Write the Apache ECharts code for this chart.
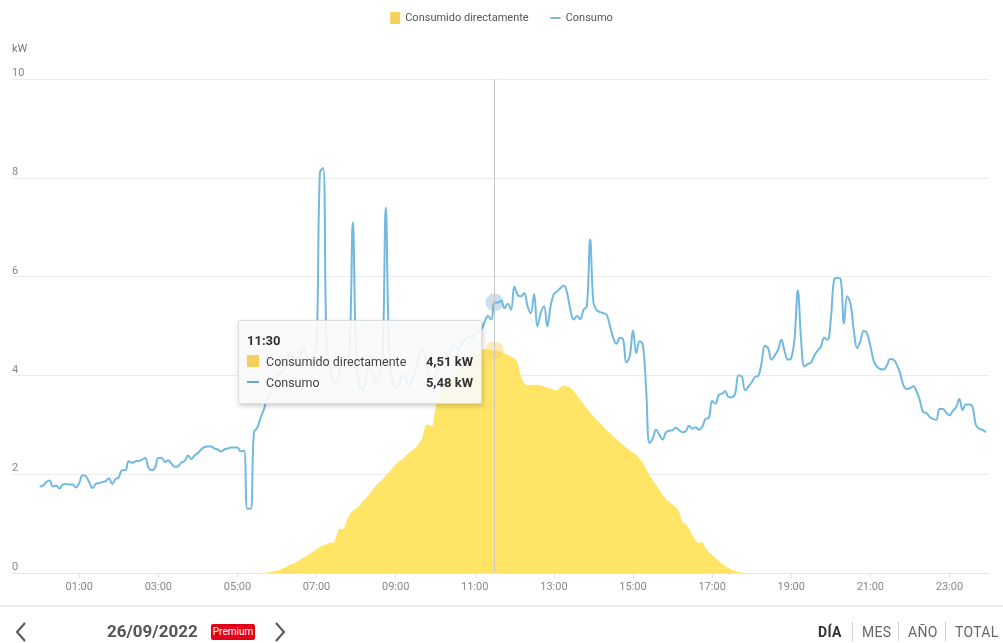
<!DOCTYPE html>
<html>
<head>
<meta charset="UTF-8">
<script src="https://cdn.jsdelivr.net/npm/echarts@6/dist/echarts.min.js"></script>
<style type="text/css">
body{margin:0;background:#fff;font-family:Roboto,"Noto Sans",sans-serif;overflow:hidden;}
#main{position:absolute;left:0;top:0;width:1003px;height:643px;}
.sep{position:absolute;left:0;top:605px;width:1003px;height:2px;background:#eeeeee;}
.nav{position:absolute;top:622px;height:20px;line-height:20px;font-size:14px;color:#666;letter-spacing:0.3px;}
.vbar{position:absolute;top:622px;width:1px;height:19px;background:#d0d0d0;}
.fecha{position:absolute;left:107px;top:620px;font-size:17px;font-weight:bold;color:#555;line-height:22px;}
.premium{position:absolute;left:211px;top:624px;width:44px;height:16px;line-height:16px;background:#e2001a;color:#fff;font-size:10px;text-align:center;border-radius:2px;}
.chev{position:absolute;top:622px;}
</style>
</head>
<body>
<div id="main"></div>
<div class="sep"></div>
<svg class="chev" style="left:14px" width="14" height="20"><polyline points="11,1 3,10 11,19" fill="none" stroke="#555" stroke-width="2"/></svg>
<div class="fecha">26/09/2022</div>
<div class="premium">Premium</div>
<svg class="chev" style="left:273px" width="14" height="20"><polyline points="3,1 11,10 3,19" fill="none" stroke="#555" stroke-width="2"/></svg>
<div class="nav" style="left:818px;font-weight:bold;color:#333">DÍA</div>
<div class="vbar" style="left:852px"></div>
<div class="nav" style="left:862px">MES</div>
<div class="vbar" style="left:898px"></div>
<div class="nav" style="left:908px">AÑO</div>
<div class="vbar" style="left:945px"></div>
<div class="nav" style="left:955px">TOTAL</div>

<script type="text/javascript">
// datos cada 5 minutos, 00:00 .. 23:55
var stepMin = 5;
var hourTicks = ['01:00','03:00','05:00','07:00','09:00','11:00','13:00','15:00','17:00','19:00','21:00','23:00'];

var consumo = [
	1.75,1.77,1.84,1.87,1.75,1.77,1.71,1.79,1.80,1.79,
	1.79,1.73,1.82,1.98,1.96,1.84,1.72,1.80,1.82,1.84,
	1.86,1.92,1.80,1.90,1.94,2.08,2.08,2.26,2.23,2.26,
	2.27,2.29,2.33,2.13,2.08,2.13,2.33,2.33,2.25,2.28,
	2.21,2.15,2.16,2.24,2.27,2.38,2.31,2.38,2.43,2.50,
	2.55,2.56,2.56,2.52,2.50,2.46,2.50,2.52,2.54,2.54,
	2.54,2.46,2.48,1.30,1.30,2.85,2.94,3.14,3.31,3.52,
	3.65,3.80,3.95,4.05,4.10,4.30,4.45,4.35,4.20,4.40,
	4.55,4.40,4.20,4.35,4.60,8.10,8.20,4.70,4.20,3.90,
	3.85,4.10,4.40,4.30,4.50,7.10,4.40,3.80,3.70,3.90,
	4.20,4.05,3.85,4.00,4.30,7.40,4.50,3.90,3.75,3.80,
	4.00,3.95,3.80,3.90,4.10,4.40,4.55,4.35,4.05,3.90,
	4.00,4.15,4.30,4.45,4.40,4.55,4.60,4.50,4.65,4.70,
	4.80,4.75,4.85,4.90,4.93,5.09,5.20,5.13,5.48,5.47,
	5.51,5.36,5.45,5.33,5.80,5.63,5.60,5.67,5.40,5.26,
	5.65,4.99,5.26,5.40,4.99,5.40,5.65,5.70,5.77,5.82,
	5.67,5.33,5.13,5.20,5.14,5.33,5.40,6.75,5.47,5.32,
	5.28,5.26,5.23,5.00,4.76,4.64,4.76,4.72,4.26,4.39,
	4.91,4.45,4.69,4.62,3.70,2.63,2.72,2.90,2.80,2.70,
	2.85,2.88,2.89,2.94,2.89,2.85,2.87,2.98,2.92,2.95,
	2.90,2.96,3.12,3.14,3.48,3.43,3.60,3.63,3.68,3.56,
	3.56,3.64,4.00,3.98,3.70,3.77,3.86,3.97,3.99,4.25,
	4.60,4.55,4.32,4.40,4.52,4.72,4.49,4.32,4.35,4.75,
	5.72,4.72,4.18,4.23,4.26,4.40,4.50,4.58,4.76,4.72,
	5.13,5.94,5.97,5.95,5.05,5.60,5.45,4.90,4.55,4.70,
	4.90,4.85,4.60,4.30,4.18,4.13,4.12,4.20,4.33,4.32,
	4.22,4.05,3.81,3.72,3.74,3.78,3.68,3.50,3.26,3.24,
	3.16,3.12,3.10,3.32,3.32,3.25,3.19,3.28,3.35,3.52,
	3.30,3.41,3.41,3.36,3.00,2.92,2.90,2.85
];

var directo = [
	0,0,0,0,0,0,0,0,0,0,
	0,0,0,0,0,0,0,0,0,0,
	0,0,0,0,0,0,0,0,0,0,
	0,0,0,0,0,0,0,0,0,0,
	0,0,0,0,0,0,0,0,0,0,
	0,0,0,0,0,0,0,0,0,0,
	0,0,0,0,0,0,0,0,0,0.01,
	0.02,0.03,0.05,0.07,0.10,0.13,0.16,0.19,0.22,0.27,
	0.31,0.35,0.39,0.44,0.48,0.53,0.56,0.58,0.61,0.61,
	0.75,0.90,0.88,1.03,1.18,1.26,1.30,1.36,1.45,1.52,
	1.60,1.69,1.77,1.83,1.90,1.97,2.04,2.12,2.20,2.26,
	2.30,2.37,2.43,2.48,2.53,2.62,2.72,2.98,3.00,2.97,
	3.30,3.58,3.74,3.78,3.82,3.92,4.00,4.10,4.18,4.25,
	4.30,4.36,4.43,4.49,4.52,4.53,4.52,4.51,4.51,4.50,
	4.48,4.44,4.42,4.38,4.35,4.25,3.98,3.85,3.80,3.81,
	3.81,3.81,3.80,3.78,3.76,3.73,3.71,3.70,3.76,3.79,
	3.78,3.75,3.68,3.60,3.51,3.42,3.33,3.25,3.17,3.10,
	3.03,2.96,2.89,2.83,2.77,2.71,2.65,2.59,2.53,2.48,
	2.44,2.39,2.31,2.23,2.10,1.98,1.88,1.78,1.68,1.58,
	1.50,1.44,1.38,1.33,1.24,1.02,0.99,0.90,0.77,0.66,
	0.61,0.62,0.50,0.42,0.37,0.31,0.25,0.19,0.14,0.10,
	0.06,0.04,0.02,0.01,0,0,0,0,0,0,
	0,0,0,0,0,0,0,0,0,0,
	0,0,0,0,0,0,0,0,0,0,
	0,0,0,0,0,0,0,0,0,0,
	0,0,0,0,0,0,0,0,0,0,
	0,0,0,0,0,0,0,0,0,0,
	0,0,0,0,0,0,0,0,0,0,
	0,0,0,0,0,0,0,0
];

var colorSol = '#f6d05c';
var colorCons = '#68a9cb';

function pad(n){ return n < 10 ? '0' + n : '' + n; }
function hhmm(m){ return pad(Math.floor(m / 60)) + ':' + pad(m % 60); }
function kw(v){ return v.toFixed(2).replace('.', ',') + ' kW'; }

var tickMinutes = hourTicks.map(function(t){ return parseInt(t.split(':')[0], 10) * 60; });
var consumoData = consumo.map(function(v, i){ return [i * stepMin, v]; });
var directoData = directo.map(function(v, i){ return [i * stepMin, v]; });

var myChart = echarts.init(document.getElementById('main'));
var option = {
	animation: false,
	textStyle: {fontFamily: 'Roboto'},
	legend: {
		top: 7, left: 'center',
		itemWidth: 10, itemHeight: 12, itemGap: 22,
		textStyle: {color: '#555', fontSize: 11},
		data: [
			{name: 'Consumido directamente', icon: 'rect', itemStyle: {color: colorSol}},
			{name: 'Consumo', icon: 'path://M0,0H12V2H0Z', itemStyle: {color: colorCons}}
		]
	},
	graphic: [
		{type: 'text', left: 12, top: 44, style: {text: 'kW', fill: '#777', fontSize: 11, fontFamily: 'Roboto'}}
	],
	grid: {left: 12, right: 14, top: 79, bottom: 70},
	tooltip: {
		trigger: 'axis',
		alwaysShowContent: true,
		triggerOn: 'none',
		transitionDuration: 0,
		position: [238, 320],
		padding: [10, 8],
		backgroundColor: 'rgba(250,250,250,0.9)',
		borderColor: '#ddd',
		borderWidth: 1,
		extraCssText: 'box-shadow:1px 2px 5px rgba(0,0,0,0.2);border-radius:2px;',
		axisPointer: {type: 'line', lineStyle: {color: '#c8c8c8', width: 1, type: 'solid'}},
		formatter: function(params){
			var t = hhmm(params[0].value[0]);
			var html = '<div style="font-size:13px;font-weight:bold;color:#333;line-height:20px">' + t + '</div>';
			params.forEach(function(p){
				var mk = p.seriesIndex === 0
					? '<span style="display:inline-block;width:12px;height:12px;background:' + colorSol + ';vertical-align:-1px;margin-right:7px"></span>'
					: '<span style="display:inline-block;width:12px;height:2px;background:' + colorCons + ';vertical-align:4px;margin-right:7px"></span>';
				html += '<div style="display:flex;justify-content:space-between;width:226px;font-size:12.5px;line-height:21px;color:#444">'
					+ '<span>' + mk + p.seriesName + '</span>'
					+ '<b style="color:#333;font-size:13px">' + kw(p.value[1]) + '</b></div>';
			});
			return html;
		}
	},
	xAxis: {
		type: 'value', min: -42, max: 1440,
		axisLine: {show: true, lineStyle: {color: '#e4e4e4'}},
		axisTick: {show: true, customValues: tickMinutes, length: 5, lineStyle: {color: '#e4e4e4'}},
		axisLabel: {
			customValues: tickMinutes, color: '#888', fontSize: 11, margin: 9,
			formatter: function(v){ return hhmm(v); }
		},
		splitLine: {show: false}
	},
	yAxis: {
		type: 'value', min: 0, max: 10, interval: 2,
		axisLine: {show: false}, axisTick: {show: false},
		axisLabel: {inside: true, margin: 0, verticalAlign: 'bottom', padding: [0, 0, 0, 0], color: '#888', fontSize: 11},
		splitLine: {lineStyle: {color: '#ececec'}}
	},
	series: [
		{
			name: 'Consumido directamente', type: 'line', data: directoData,
			smooth: 0.3, showSymbol: false, symbol: 'circle', symbolSize: 18,
			lineStyle: {width: 0},
			areaStyle: {color: colorSol, opacity: 1},
			itemStyle: {color: 'rgba(246,208,92,0.45)'},
			emphasis: {scale: false, lineStyle: {width: 0}},
			z: 1
		},
		{
			name: 'Consumo', type: 'line', data: consumoData,
			smooth: 0.4, showSymbol: false, symbol: 'circle', symbolSize: 18,
			lineStyle: {width: 2, color: colorCons},
			itemStyle: {color: 'rgba(104,169,203,0.35)'},
			emphasis: {scale: false, lineStyle: {width: 2}},
			z: 2
		}
	]
};
myChart.setOption(option);
myChart.dispatchAction({type: 'showTip', seriesIndex: 1, dataIndex: 138});
</script>
</body>
</html>
